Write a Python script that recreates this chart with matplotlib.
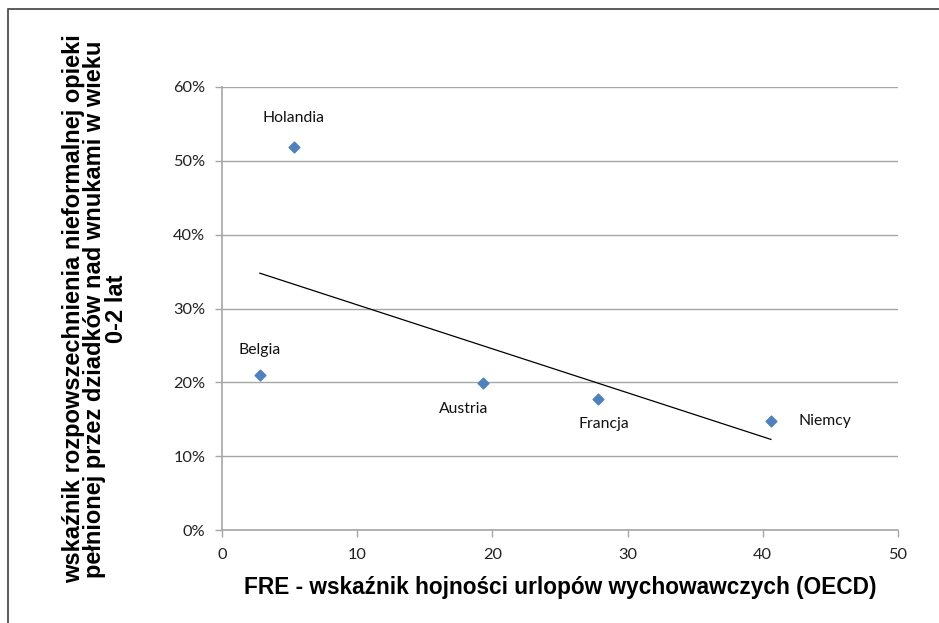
#!/usr/bin/env python3

import numpy as np
import matplotlib.pyplot as plt
from matplotlib.patches import Rectangle
from matplotlib.ticker import FuncFormatter

countries = ["Holandia", "Belgia", "Austria", "Francja", "Niemcy"]
fre = [5.3, 2.8, 19.3, 27.8, 40.6]
care = [0.519, 0.210, 0.199, 0.177, 0.147]

# label offsets in points (dx, dy), Excel-style placement
label_offsets = [(0, 21), (0, 18), (-14, -19), (4, -18), (39, 0)]

W, H = 939, 623
fig = plt.figure(figsize=(W / 100, H / 100), dpi=100)
ax = fig.add_axes([222 / W, 1 - 530 / H, (898 - 222) / W, (530 - 87) / H])

# outer chart frame
fig.patches.append(Rectangle((8 / W, -0.05), 1.2, 1 - 9 / H + 0.05,
                             transform=fig.transFigure, fill=False,
                             edgecolor="#404040", linewidth=1.2))

ax.scatter(fre, care, marker="D", s=30, color="#4f81bd", zorder=3)

for name, x, y, (dx, dy) in zip(countries, fre, care, label_offsets):
    ax.annotate(name, (x, y), xytext=(dx, dy), textcoords="offset points",
                ha="center", va="center", fontsize=11.3, family="Lato",
                color="#111111")

# linear trendline
slope, intercept = np.polyfit(fre, care, 1)
xs = np.array([min(fre), max(fre)])
ax.plot(xs, slope * xs + intercept, color="black", linewidth=0.9, zorder=2)

ax.set_xlim(0, 50)
ax.set_ylim(0, 0.6)
ax.set_xticks(np.arange(0, 51, 10))
ax.set_yticks(np.arange(0, 0.61, 0.1))
ax.yaxis.set_major_formatter(FuncFormatter(lambda v, p: f"{v * 100:.0f}%"))

ax.grid(axis="y", color="#a6a6a6", linewidth=1)
ax.set_axisbelow(True)
for s in ["top", "right"]:
    ax.spines[s].set_visible(False)
for s in ["left", "bottom"]:
    ax.spines[s].set_color("#a6a6a6")
    ax.spines[s].set_linewidth(1.2)

ax.tick_params(axis="both", colors="#a6a6a6", length=5, width=1,
               labelcolor="#222222", labelsize=11.8)
ax.tick_params(axis="x", pad=8)
ax.tick_params(axis="y", pad=7)
for lab in ax.get_xticklabels() + ax.get_yticklabels():
    lab.set_family("Lato")

ax.set_xlabel("FRE - wskaźnik hojności urlopów wychowawczych (OECD)",
              fontsize=16.3, fontweight="bold", family="Liberation Sans",
              labelpad=10)
fig.text(95 / W, 1 - 309 / H,
         "wskaźnik rozpowszechnienia nieformalnej opieki\n"
         "pełnionej przez dziadków nad wnukami w wieku\n0-2 lat",
         rotation=90, ha="center", va="center", fontsize=17,
         fontweight="bold", family="Liberation Sans", linespacing=0.92)

fig.savefig("out.png", dpi=100)
